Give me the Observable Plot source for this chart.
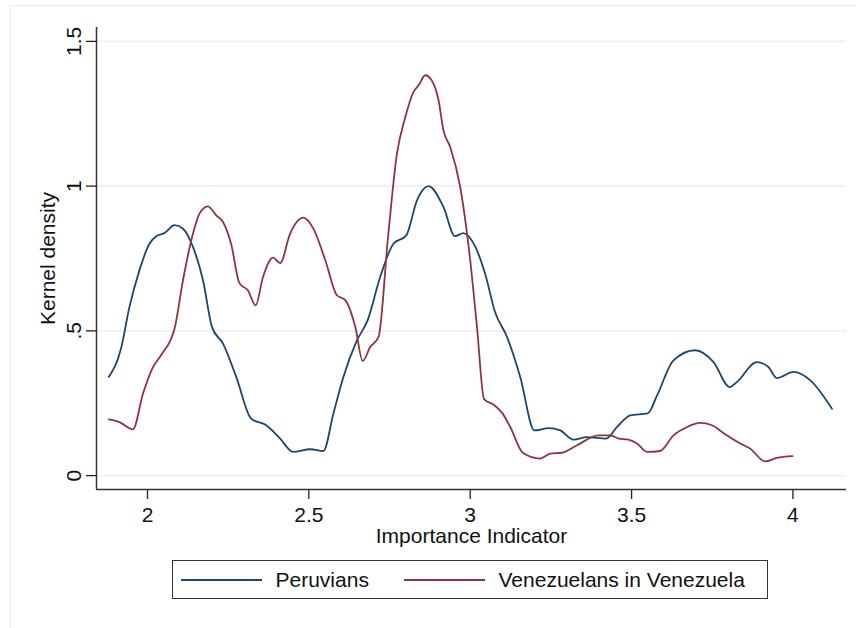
<!DOCTYPE html>
<html>
<head>
<meta charset="utf-8">
<script src="https://cdn.jsdelivr.net/npm/d3@7"></script>
<script src="https://cdn.jsdelivr.net/npm/@observablehq/plot@0.6"></script>
<style>
  body { margin: 0; background: #fff; overflow: hidden; font-family: "Liberation Sans", Arial, sans-serif; }
  #page { position: relative; width: 856px; height: 628px; overflow: hidden; }
  #edge { position: absolute; left: 10px; top: 5px; width: 900px; height: 700px; border: 1px solid #ececec; }
  #chart { position: absolute; left: 0; top: 0; }
  #legend { position: absolute; left: 172px; top: 560px; width: 596px; height: 39px; box-sizing: border-box; border: 1.5px solid #333; }
  .item { position: absolute; top: 0; height: 100%; display: flex; align-items: center; font-size: 21px; color: #111; white-space: nowrap; }
  .swatch { width: 81px; height: 2px; margin-right: 14px; }
</style>
</head>
<body>
<div id="page">
  <div id="edge"></div>
  <div id="chart"></div>
  <div id="legend"></div>
</div>
<script>
// kernel density curves as [importance, density]
const peruvians = [
  [1.880, 0.341], [1.918, 0.439], [1.944, 0.582], [1.975, 0.709], [2.006, 0.801],
  [2.027, 0.827], [2.053, 0.838], [2.084, 0.865], [2.110, 0.853], [2.141, 0.790],
  [2.172, 0.675], [2.200, 0.513], [2.234, 0.456], [2.275, 0.341], [2.321, 0.197],
  [2.368, 0.174], [2.411, 0.128], [2.451, 0.082], [2.504, 0.091], [2.545, 0.085],
  [2.576, 0.214], [2.607, 0.341], [2.649, 0.467], [2.682, 0.536], [2.721, 0.686],
  [2.762, 0.801], [2.802, 0.830], [2.835, 0.951], [2.871, 1.000], [2.917, 0.928],
  [2.953, 0.827], [2.979, 0.838], [3.016, 0.790], [3.046, 0.698], [3.077, 0.565],
  [3.114, 0.479], [3.155, 0.341], [3.199, 0.156], [3.243, 0.164], [3.279, 0.156],
  [3.320, 0.124], [3.362, 0.133], [3.421, 0.128], [3.455, 0.168], [3.496, 0.208],
  [3.550, 0.215], [3.579, 0.277], [3.630, 0.398], [3.697, 0.433], [3.754, 0.392],
  [3.804, 0.306], [3.826, 0.323], [3.888, 0.392], [3.924, 0.375], [3.950, 0.337],
  [4.002, 0.358], [4.054, 0.329], [4.121, 0.231]
];
const venezuelans = [
  [1.880, 0.194], [1.913, 0.185], [1.955, 0.160], [1.986, 0.283], [2.017, 0.375],
  [2.042, 0.416], [2.084, 0.508], [2.110, 0.675], [2.141, 0.836], [2.161, 0.905],
  [2.187, 0.930], [2.213, 0.899], [2.234, 0.876], [2.259, 0.801], [2.285, 0.665],
  [2.311, 0.640], [2.335, 0.588], [2.358, 0.686], [2.389, 0.753], [2.411, 0.734],
  [2.442, 0.836], [2.483, 0.891], [2.514, 0.853], [2.551, 0.744], [2.587, 0.623],
  [2.613, 0.606], [2.644, 0.513], [2.667, 0.396], [2.690, 0.444], [2.716, 0.479],
  [2.745, 0.820], [2.773, 1.112], [2.799, 1.239], [2.824, 1.325], [2.840, 1.348],
  [2.861, 1.383], [2.881, 1.365], [2.902, 1.296], [2.917, 1.193], [2.938, 1.135],
  [2.969, 0.997], [3.000, 0.744], [3.021, 0.513], [3.043, 0.264], [3.075, 0.243],
  [3.100, 0.215], [3.124, 0.168], [3.164, 0.078], [3.217, 0.059], [3.248, 0.076],
  [3.284, 0.079], [3.331, 0.105], [3.398, 0.139], [3.434, 0.139], [3.460, 0.128],
  [3.490, 0.124], [3.517, 0.111], [3.548, 0.082], [3.588, 0.085], [3.630, 0.139],
  [3.672, 0.168], [3.713, 0.182], [3.749, 0.174], [3.790, 0.143], [3.837, 0.111],
  [3.868, 0.093], [3.914, 0.049], [3.950, 0.061], [3.999, 0.067]
];

const seriesNames = ["Peruvians", "Venezuelans in Venezuela"];
const seriesColors = ["#1a476f", "#90353b"];

const xTicks = [2, 2.5, 3, 3.5, 4];
const xTickLabels = ["2", "2.5", "3", "3.5", "4"];
const yTicks = [0, 0.5, 1, 1.5];
const yTickLabels = ["0", ".5", "1", "1.5"];
const xDomain = [1.842, 4.166];
const yDomain = [-0.048, 1.548];
const xTitle = "Importance Indicator";
const yTitle = "Kernel density";

const font = "'Liberation Sans', Arial, sans-serif";

const plot = Plot.plot({
  width: 856,
  height: 556,
  marginLeft: 96,
  marginRight: 10,
  marginTop: 27,
  marginBottom: 67,
  style: {fontFamily: font, fontSize: "21px", color: "#222", background: "transparent", overflow: "visible"},
  x: {domain: xDomain},
  y: {domain: yDomain},
  marks: [
    Plot.gridY(yTicks, {stroke: "#eaf2f3", strokeOpacity: 1, strokeWidth: 1.6}),
    Plot.axisY(yTicks, {
      tickSize: 10, tickPadding: 6, tickRotate: -90, strokeWidth: 1.3,
      tickFormat: d => yTickLabels[yTicks.indexOf(d)], label: null, fill: "#111"
    }),
    Plot.axisX(xTicks, {
      tickSize: 10, tickPadding: 8, strokeWidth: 1.3,
      tickFormat: d => xTickLabels[xTicks.indexOf(d)], label: null, fill: "#111"
    }),
    Plot.ruleX([xDomain[0]], {stroke: "#333", strokeWidth: 1.5}),
    Plot.ruleY([yDomain[0]], {stroke: "#333", strokeWidth: 1.5}),
    Plot.line(peruvians, {stroke: seriesColors[0], strokeWidth: 1.8, curve: "monotone-x"}),
    Plot.line(venezuelans, {stroke: seriesColors[1], strokeWidth: 1.8, curve: "monotone-x"}),
    Plot.text([yTitle], {frameAnchor: "left", textAnchor: "middle", rotate: -90, dx: -56, lineAnchor: "top", fill: "#111"}),
    Plot.text([xTitle], {frameAnchor: "bottom", textAnchor: "middle", dy: 39, lineAnchor: "top", fill: "#111"})
  ]
});
document.getElementById("chart").appendChild(plot);

// legend box under the plot
const legend = document.getElementById("legend");
const offsets = [7.5, 230.5];
seriesNames.forEach((name, i) => {
  const item = document.createElement("div");
  item.className = "item";
  item.style.left = offsets[i] + "px";
  const sw = document.createElement("span");
  sw.className = "swatch";
  sw.style.background = seriesColors[i];
  item.appendChild(sw);
  item.appendChild(document.createTextNode(name));
  legend.appendChild(item);
});
</script>
</body>
</html>
